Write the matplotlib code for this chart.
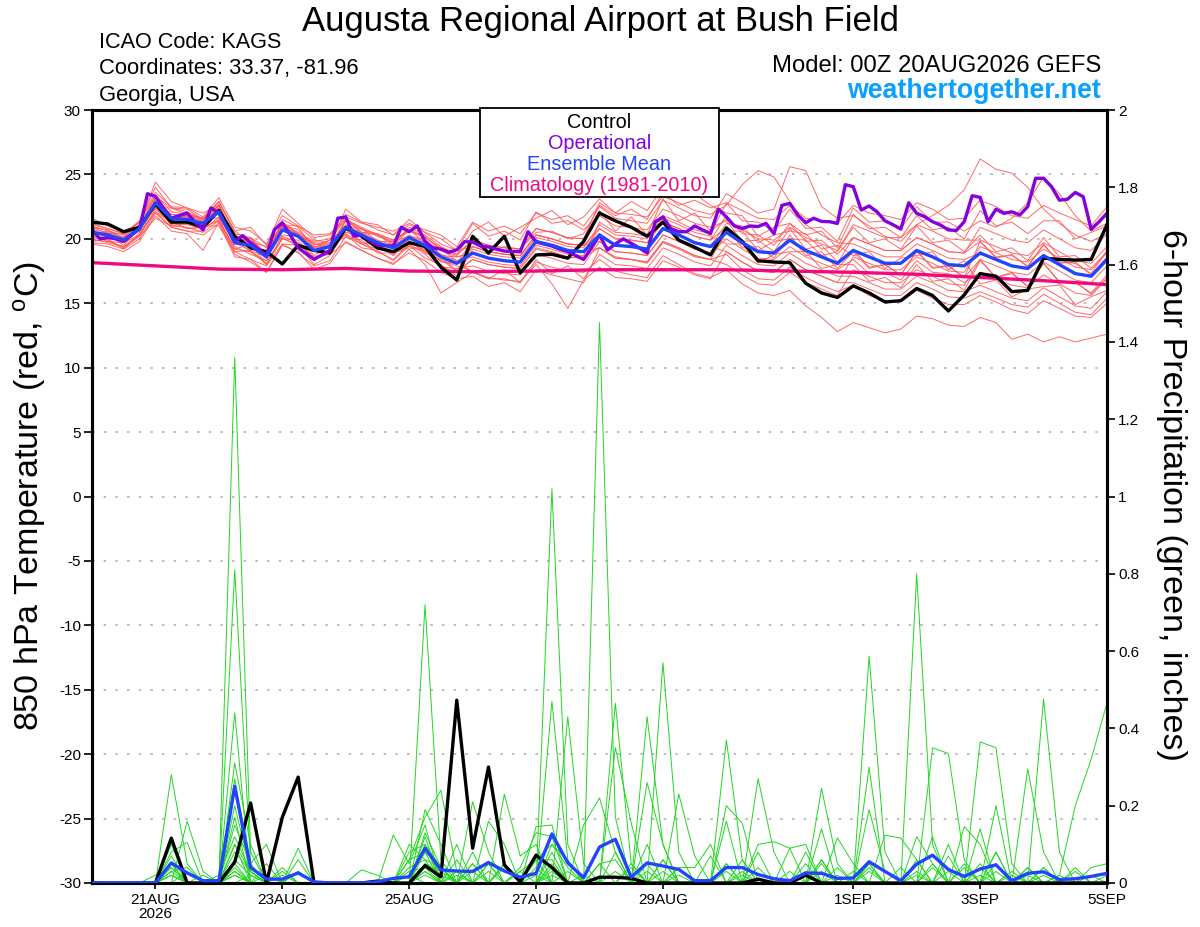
import numpy as np
import matplotlib
matplotlib.use('Agg')
import matplotlib.pyplot as plt
from matplotlib.patches import Rectangle

plt.rcParams['font.family'] = ['Liberation Sans', 'DejaVu Sans']
plt.rcParams['mathtext.default'] = 'regular'

# ---------------- data ----------------
hours6 = np.arange(65) * 6          # forecast hours, 6-hourly (20AUG 00Z .. 5SEP 00Z)
hours3 = np.arange(129) * 3         # operational run, 3-hourly
clim_hours = np.arange(17) * 24     # daily climatology

tick_hours = [24, 72, 120, 168, 216, 288, 336, 384]
tick_labels = ['21AUG\n2026', '23AUG', '25AUG', '27AUG', '29AUG', '1SEP', '3SEP', '5SEP']

control_temp = [21.3,21.15,20.55,20.9,22.7,21.3,21.3,20.9, 22.2,20.2,19.3,19.0,18.05,19.5,19.1,18.9,
                20.85,20.2,19.3,19.0,19.7,19.4,17.8,16.8, 20.2,18.9,20.2,17.35,18.75,18.8,18.5,19.8,
                22.0,21.4,20.9,20.2,21.3,19.9,19.35,18.75, 20.85,19.8,18.3,18.2,18.15,16.55,15.8,15.45,
                16.35,15.8,15.1,15.2,16.15,15.6,14.4,15.65, 17.3,17.1,15.9,16.0,18.5,18.4,18.35,18.4,21.1]

mean_temp = [20.5,20.3,19.9,20.8,22.8,21.6,21.5,21.2, 22.1,19.7,19.5,18.6,20.7,20.2,19.1,19.4,
             20.9,20.3,19.7,19.3,20.1,19.5,18.6,18.1, 18.9,18.5,18.3,18.2,19.8,19.5,19.1,19.0,
             20.3,19.5,19.4,19.2,20.8,20.3,19.7,19.4, 20.5,19.7,19.0,18.9,19.9,19.1,18.6,18.1,
             19.1,18.6,18.1,18.1,19.1,18.6,18.0,17.9, 18.9,18.4,17.9,17.7,18.7,18.0,17.3,17.1,18.4]

oper_temp = [20.7,20.0,20.1,20.0,19.8,20.3,20.8,23.5,23.3,22.4,21.6,21.8,22.0,21.3,20.7,22.4,
             22.0,20.9,19.8,20.25,19.7,19.2,18.7,20.7,21.25,20.3,19.3,18.85,18.4,18.75,19.1,21.6,
             21.7,20.2,20.3,19.9,19.5,19.47,19.44,20.9,20.55,21.0,19.8,19.3,19.2,18.95,19.15,19.78,
             19.75,19.44,19.37,19.2,19.05,19.02,19.0,20.55,19.75,19.6,19.44,19.2,19.0,18.7,18.4,19.3,
             20.3,19.13,19.6,20.0,19.65,19.3,18.9,21.3,21.7,20.8,20.55,20.55,21.0,20.7,20.4,22.3,
             21.7,21.0,20.8,21.0,20.95,21.2,20.4,22.6,22.75,21.85,21.25,21.6,21.35,21.33,21.2,24.2,
             24.05,22.24,22.55,22.1,21.4,21.1,20.76,22.8,21.98,21.72,21.33,21.07,20.69,20.65,21.33,23.35,
             23.22,21.33,22.3,21.98,22.1,21.85,22.5,24.7,24.7,24.05,23.0,23.07,23.6,23.27,20.74,21.33,
             21.98]

clim_temp = [18.15,17.9,17.65,17.6,17.7,17.5,17.45,17.5,17.6,17.6,17.6,17.5,17.4,17.25,17.0,16.75,16.45]

tm01 = [21.6,21.0,20.6,21.2,24.4,22.9,22.4,21.7, 23.2,20.9,20.6,19.6,21.8,21.0,20.3,20.4, 21.7,21.2,20.9,20.6,21.2,20.7,20.3,19.4, 21.3,20.6,21.0,20.4,22.0,21.5,21.8,21.0, 22.6,21.8,22.3,21.5,23.6,22.6,23.0,22.4, 22.8,22.2,21.6,21.5,22.6,21.6,21.4,21.2, 22.6,22.0,21.8,21.5,22.8,22.3,21.5,21.6, 23.0,22.5,21.8,21.6,22.6,22.0,21.5,21.0,22.5]
tm02 = [19.6,19.4,19.0,19.8,21.8,20.6,20.4,19.1, 21.3,18.8,18.2,17.4,19.5,19.0,17.6,18.1, 19.8,19.1,18.5,18.0,19.2,18.0,15.8,16.6, 17.4,16.9,16.9,16.6,18.2,17.8,17.5,17.4, 18.4,17.5,17.2,17.0,18.7,18.0,17.3,17.0, 17.6,16.5,15.8,15.6,16.0,14.8,13.9,12.8, 13.5,13.1,12.7,13.0,14.0,13.8,13.3,13.2, 13.9,13.5,12.2,12.6,12.0,12.4,12.0,12.3,12.6]
tm03 = [21.0,20.6,20.1,21.4,24.0,22.4,22.1,21.5, 22.6,20.0,19.0,18.3,21.5,20.9,19.3,19.9, 21.6,20.5,20.4,19.6,20.9,20.3,19.4,18.8, 19.9,19.0,19.4,19.2,20.5,20.6,20.0,20.4, 22.5,21.6,21.4,21.2,23.0,22.4,21.8,21.6, 23.5,22.8,22.0,22.3,25.6,25.3,22.5,21.6, 21.8,21.0,20.2,19.8,21.1,21.8,22.6,23.8, 26.2,25.4,25.1,24.0,22.3,21.2,20.3,19.8,20.4]
tm04 = [20.1,19.9,19.3,20.2,21.6,21.0,21.2,20.9, 21.5,19.2,19.6,18.0,20.1,19.4,18.4,19.0, 20.4,19.6,19.0,18.4,19.6,18.8,17.8,17.4, 18.4,18.0,17.8,17.7,19.2,18.9,18.5,18.6, 19.3,18.6,18.4,18.1,19.7,19.2,18.6,18.4, 18.8,17.6,16.9,16.8,17.8,17.0,16.4,15.9, 16.4,15.6,15.2,15.1,16.0,15.4,14.9,14.9, 15.6,15.1,14.5,14.2,15.2,14.6,14.0,13.9,15.0]
tm05 = [20.9,20.7,20.0,21.1,23.3,22.4,21.9,21.6, 22.9,20.6,20.9,19.5,22.3,21.2,20.1,20.3, 21.5,20.8,20.2,19.8,20.6,20.1,19.3,18.8, 20.6,21.3,20.2,20.9,21.6,22.2,21.1,21.7, 23.1,22.0,22.9,22.2,24.0,23.2,23.5,22.6, 22.0,21.8,20.2,20.9,21.2,20.3,20.6,19.3, 21.9,20.8,20.9,20.1,21.8,20.7,20.9,20.0, 22.2,21.0,21.3,20.4,21.4,21.4,20.0,20.5,21.0]
tm06 = [20.0,19.7,19.4,20.3,22.1,20.9,20.6,20.3, 21.2,18.6,18.4,17.4,19.6,18.9,17.9,18.3, 20.2,19.6,19.2,18.9,19.4,19.2,18.3,17.9, 17.5,16.9,17.6,16.6,18.4,17.3,17.9,16.9, 18.8,18.0,17.9,17.7,19.3,18.8,18.2,17.9, 19.5,18.7,18.0,17.9,18.9,18.1,17.6,17.1, 17.1,16.6,16.1,16.1,17.1,16.6,16.0,15.9, 16.4,15.9,15.4,15.2,16.2,15.5,14.8,14.6,15.9]
tm07 = [21.2,20.8,20.4,21.4,23.6,22.5,22.4,22.0, 22.6,19.6,20.1,18.5,21.0,20.3,19.6,19.3, 21.4,20.7,20.4,19.9,20.7,20.2,19.1,18.6, 18.9,18.5,18.3,18.2,19.8,19.5,19.1,19.0, 20.8,20.0,19.9,19.7,21.3,20.8,20.2,19.9, 21.8,20.4,20.3,19.5,21.2,19.8,19.9,18.8, 20.1,19.6,19.1,19.1,20.1,19.6,19.0,18.9, 19.8,18.6,18.7,17.9,19.5,18.2,18.1,17.3,19.1]
tm08 = [19.7,19.6,19.2,20.0,22.0,20.9,20.6,20.6, 22.6,20.2,19.7,18.7,21.1,20.7,19.5,19.9, 20.9,19.7,19.6,18.7,20.1,19.0,18.6,17.5, 19.4,19.0,18.8,18.7,20.3,20.0,19.6,19.5, 19.8,19.0,18.9,18.7,20.3,19.8,19.2,18.9, 20.0,19.2,18.5,18.4,19.4,18.6,18.1,17.6, 18.4,17.3,17.4,16.8,18.3,17.4,17.3,16.6, 17.4,16.9,16.4,16.2,17.2,16.5,15.8,15.6,16.9]
tm09 = [20.6,20.2,19.7,20.7,23.1,21.9,21.8,21.5, 22.9,20.4,20.1,19.3,21.1,20.5,19.8,20.0, 21.9,21.3,20.7,20.3,21.1,20.5,19.6,19.1, 21.2,20.2,20.6,19.9,22.1,21.2,21.4,20.7, 21.8,21.0,20.9,20.7,22.3,21.8,21.2,20.9, 21.4,19.8,19.9,19.0,20.8,19.2,19.5,18.2, 19.2,17.8,18.0,17.2,19.1,17.7,17.9,17.0, 18.4,17.0,17.4,16.3,18.1,16.7,16.6,15.8,17.2]
tm10 = [20.9,20.4,20.0,20.9,22.6,21.0,20.9,20.5, 21.4,19.0,19.1,18.0,20.0,19.6,18.5,18.8, 19.7,19.1,18.5,18.1,18.9,18.3,17.4,16.9, 17.1,16.3,16.6,15.9,17.6,17.2,16.9,16.6, 19.3,18.5,18.4,18.2,19.8,19.3,18.7,18.4, 20.5,19.7,19.0,18.9,19.9,19.1,18.6,18.1, 20.1,19.6,19.1,19.1,20.1,19.6,19.0,18.9, 20.9,20.4,19.9,19.7,20.7,20.0,19.3,19.1,20.4]
tm11 = [20.3,20.5,20.1,20.6,22.9,21.9,21.7,21.4, 22.3,19.9,19.7,18.8,20.9,20.4,19.3,19.6, 21.1,20.5,19.9,19.5,20.3,19.7,18.8,18.3, 18.6,18.2,18.0,17.9,19.5,19.2,18.8,18.7, 21.3,20.5,20.4,20.2,21.8,21.3,20.7,20.4, 22.8,21.4,21.3,20.6,22.3,20.8,20.9,19.8, 22.4,21.3,21.4,20.8,22.5,21.3,21.3,20.6, 21.4,20.9,21.6,22.8,24.8,23.5,21.8,20.6,21.2]
tm12 = [21.1,20.8,20.4,21.3,23.4,22.1,21.9,21.6, 21.6,19.2,19.0,18.1,20.2,19.7,18.6,18.9, 20.9,20.3,19.7,19.3,20.1,19.5,18.6,18.1, 19.4,19.0,18.8,18.7,20.3,20.0,19.6,19.5, 20.3,19.5,19.4,19.2,20.8,20.3,19.7,19.4, 19.0,18.2,17.5,17.4,18.4,17.6,17.1,16.6, 16.6,16.1,15.6,15.6,16.6,16.1,15.5,15.4, 15.9,15.4,14.9,14.7,15.7,15.0,14.3,14.1,15.4]
tm13 = [19.9,19.8,19.4,20.3,22.3,21.2,21.1,20.8, 22.1,19.7,19.5,18.6,20.7,20.2,19.1,19.4, 21.5,20.9,20.3,19.9,20.7,20.1,19.2,18.7, 19.9,19.5,19.3,19.2,20.8,20.5,20.1,20.0, 22.8,22.0,21.9,21.7,23.3,22.8,22.2,21.9, 22.6,24.2,25.3,24.8,22.9,21.1,20.3,19.7, 19.6,19.1,18.6,18.6,19.6,19.1,18.5,18.4, 18.9,18.4,17.9,17.7,18.7,18.0,17.3,17.1,18.4]
tm14 = [20.4,20.6,20.3,20.8,22.4,22.4,22.3,21.5, 22.9,20.6,19.8,19.4,21.1,21.0,19.9,19.7, 20.1,19.9,18.9,18.9,19.3,19.1,17.8,17.7, 17.9,17.5,17.3,17.2,18.8,18.5,18.1,18.0, 19.8,19.0,18.9,18.7,20.3,19.8,19.2,18.9, 20.6,20.6,19.1,19.8,20.0,19.9,18.7,19.0, 20.9,19.7,20.0,19.2,21.0,19.7,19.9,19.0, 20.3,19.0,19.3,18.3,20.1,18.6,18.7,17.7,19.0]
tm15 = [20.3,19.8,19.7,20.3,22.7,21.1,21.4,20.7, 21.7,19.7,19.1,18.6,20.3,20.2,18.7,19.4, 21.0,20.8,19.8,19.8,20.2,20.0,18.7,18.6, 18.9,18.5,18.3,18.2,19.8,19.5,19.1,19.0, 19.3,18.5,18.4,18.2,19.8,19.3,18.7,18.4, 18.0,17.2,16.5,16.4,17.4,16.6,16.1,15.6, 17.6,17.1,16.6,16.6,17.6,17.1,16.5,16.4, 18.4,17.9,17.4,17.2,18.2,17.5,16.8,16.6,17.9]
tm16 = [20.9,20.4,20.4,20.9,23.3,21.7,22.0,21.3, 22.6,19.8,20.0,18.7,21.2,20.3,19.6,19.5, 22.3,21.3,21.1,20.3,21.5,20.5,20.0,19.1, 19.4,19.0,18.8,18.7,20.3,20.0,19.6,19.5, 20.8,20.0,19.9,19.7,21.3,20.8,20.2,19.9, 20.9,19.3,19.4,18.5,20.3,18.7,19.0,17.7, 19.0,17.7,18.0,17.2,19.0,17.8,17.9,17.0, 19.8,18.5,18.8,17.8,19.6,18.1,18.2,17.2,18.6]
tm17 = [20.1,20.3,19.5,20.8,22.4,21.3,20.8,20.9, 21.4,19.4,18.8,18.3,20.0,19.9,18.4,19.1, 20.5,20.3,19.3,19.3,19.7,19.5,18.2,18.1, 19.9,19.5,19.3,19.2,20.8,20.5,20.1,20.0, 22.2,20.6,21.7,20.3,23.1,21.4,22.0,20.6, 21.5,20.7,20.0,19.9,20.9,20.1,19.6,19.1, 21.1,20.6,20.1,20.1,21.1,20.6,20.0,19.9, 19.9,19.4,18.9,18.7,19.7,19.0,18.3,18.1,19.4]
tm18 = [20.8,20.2,20.2,20.7,23.1,21.5,21.8,21.1, 22.4,19.6,19.8,18.5,21.0,20.1,19.4,19.3, 20.7,19.7,19.5,18.7,19.9,18.9,18.4,17.5, 18.4,18.0,17.8,17.7,19.3,19.0,18.6,18.5, 20.3,19.5,19.4,19.2,20.8,20.3,19.7,19.4, 21.2,21.0,19.7,20.3,20.6,20.4,19.2,19.5, 18.7,19.0,17.7,18.5,18.7,19.0,17.6,18.3, 16.5,16.8,15.5,16.1,16.3,16.4,14.9,15.5,16.0]
tm19 = [20.7,20.1,20.1,20.6,23.0,21.4,21.7,21.0, 21.0,19.0,18.4,17.9,19.6,19.5,18.0,18.7, 21.5,20.5,20.3,19.5,20.7,19.7,19.2,18.3, 17.4,17.0,16.8,16.7,18.0,16.5,14.6,16.8, 17.8,17.0,16.9,16.7,18.3,17.8,17.2,16.9, 19.0,18.2,17.5,17.4,18.4,17.6,17.1,16.6, 18.6,18.1,17.6,17.6,18.6,18.1,17.5,17.4, 19.4,18.9,18.4,18.2,19.2,18.5,17.8,17.6,18.9]
tm20 = [19.8,20.0,19.2,20.5,22.1,21.3,20.8,20.9, 22.7,19.9,20.1,18.8,21.3,20.4,19.7,19.6, 20.3,19.3,19.1,18.3,19.5,18.5,18.0,17.1, 19.2,18.8,18.6,18.5,20.1,19.8,19.4,19.3, 21.1,20.3,20.2,20.0,21.6,21.1,20.5,20.2, 19.6,19.6,18.1,18.8,19.0,19.0,17.7,18.0, 18.0,16.7,17.0,16.2,18.0,16.7,16.9,16.0, 18.3,17.0,17.3,16.3,18.1,16.6,16.7,15.7,17.0]
member_temps = [tm01, tm02, tm03, tm04, tm05, tm06, tm07, tm08, tm09, tm10,
                tm11, tm12, tm13, tm14, tm15, tm16, tm17, tm18, tm19, tm20]

control_precip = [0,0,0,0,0,0.116,0,0, 0,0.054,0.207,0,0.17,0.274,0,0,
                  0,0,0.005,0,0,0.045,0.016,0.473, 0.09,0.30,0.047,0.003,0.072,0.04,0,0,
                  0.015,0.015,0.012,0,0,0,0,0, 0,0,0.01,0,0,0.02,0,0,
                  0,0,0,0,0,0,0,0, 0,0,0,0,0,0,0,0,0]
mean_precip = [0,0,0,0,0,0.052,0.026,0.006, 0.006,0.25,0.04,0.01,0.01,0.026,0.003,0,
               0,0,0.003,0.012,0.016,0.09,0.034,0.031, 0.03,0.053,0.031,0.015,0.025,0.127,0.052,0.014,
               0.093,0.113,0.015,0.052,0.044,0.035,0.006,0.006, 0.04,0.04,0.022,0.011,0.006,0.026,0.025,0.012,
               0.013,0.055,0.03,0.006,0.049,0.072,0.035,0.017, 0.036,0.047,0.006,0.025,0.029,0.009,0.011,0.017,0.025]

# ensemble member 6-hour precipitation: {step index: inches}; unlisted steps are 0
pm01 = {5:0.28, 6:0.05, 9:0.10, 10:0.03, 21:0.13, 22:0.04, 29:0.10, 30:0.04, 33:0.08, 35:0.05, 40:0.05, 46:0.06, 49:0.05, 52:0.12, 53:0.05, 57:0.08, 60:0.04}
pm02 = {6:0.16, 7:0.03, 9:1.36, 10:0.08, 13:0.03, 21:0.10, 24:0.05, 28:0.06, 32:1.45, 33:0.17, 36:0.06, 42:0.08, 49:0.19, 50:0.03, 56:0.14, 61:0.02}
pm03 = {5:0.10, 9:0.81, 10:0.05, 11:0.10, 21:0.72, 22:0.06, 26:0.05, 29:0.47, 30:0.06, 36:0.57, 37:0.08, 46:0.14, 52:0.80, 53:0.10, 57:0.20}
pm04 = {5:0.08, 6:0.105, 9:0.44, 13:0.09, 20:0.06, 21:0.17, 22:0.24, 23:0.03, 29:1.02, 30:0.10, 35:0.43, 36:0.10, 40:0.16, 49:0.587, 50:0.08, 54:0.10, 60:0.476, 61:0.08}
pm05 = {5:0.07, 9:0.31, 10:0.10, 12:0.03, 19:0.124, 20:0.05, 21:0.15, 24:0.21, 25:0.08, 30:0.43, 31:0.05, 33:0.465, 34:0.05, 40:0.37, 41:0.06, 49:0.30, 53:0.35, 54:0.335, 55:0.06, 59:0.04}
pm06 = {5:0.05, 9:0.27, 11:0.05, 13:0.06, 21:0.19, 22:0.10, 25:0.16, 26:0.10, 28:0.146, 29:0.15, 33:0.35, 34:0.155, 37:0.23, 38:0.07, 42:0.27, 43:0.08, 46:0.245, 47:0.05, 56:0.365, 57:0.35, 58:0.05}
pm07 = {4:0.02, 5:0.04, 9:0.20, 10:0.03, 12:0.04, 21:0.12, 23:0.10, 26:0.23, 27:0.07, 28:0.10, 31:0.15, 32:0.22, 33:0.08, 35:0.26, 36:0.10, 40:0.20, 41:0.155, 44:0.09, 45:0.10, 55:0.146, 56:0.10, 59:0.295, 60:0.08}
pm08 = {5:0.03, 6:0.04, 9:0.17, 17:0.034, 18:0.02, 21:0.08, 22:0.04, 24:0.08, 27:0.04, 28:0.13, 29:0.12, 32:0.05, 35:0.10, 39:0.07, 42:0.10, 43:0.107, 44:0.09, 47:0.117, 48:0.05, 50:0.124, 51:0.116, 52:0.06, 61:0.02, 62:0.20, 63:0.32, 64:0.466}
pm09 = {5:0.02, 7:0.02, 9:0.15, 10:0.05, 20:0.10, 21:0.06, 23:0.06, 25:0.05, 29:0.08, 34:0.05, 37:0.04, 38:0.04, 39:0.10, 45:0.08, 49:0.05, 53:0.12, 55:0.05, 57:0.08, 63:0.04, 64:0.05}
pm10 = {5:0.05, 8:0.02, 9:0.12, 10:0.03, 13:0.03, 20:0.08, 21:0.10, 22:0.04, 24:0.05, 27:0.03, 28:0.06, 29:0.10, 30:0.06, 36:0.06, 41:0.06, 45:0.05, 48:0.03, 51:0.04, 54:0.07, 58:0.03, 62:0.04}
pm11 = {9:0.08, 10:0.03, 20:0.04, 21:0.06, 22:0.04, 26:0.05, 28:0.06, 29:0.06, 32:0.05, 33:0.06, 37:0.04, 40:0.05, 46:0.06, 52:0.06, 56:0.05, 59:0.04}
pm12 = {5:0.04, 9:0.05, 11:0.02, 20:0.06, 21:0.08, 23:0.03, 25:0.05, 27:0.03, 29:0.05, 34:0.04, 41:0.03, 47:0.04, 53:0.05, 57:0.05, 60:0.04}
pm13 = {5:0.03, 9:0.10, 21:0.05, 22:0.03, 29:0.04, 44:0.03, 46:0.05, 49:0.03, 56:0.04}
pm14 = {6:0.03, 9:0.06, 10:0.02, 20:0.03, 21:0.04, 24:0.03, 28:0.04, 35:0.03, 42:0.04, 52:0.03, 55:0.04, 62:0.03}
pm15 = {5:0.02, 9:0.04, 12:0.02, 21:0.03, 26:0.04, 30:0.03, 36:0.03, 45:0.03, 53:0.04, 58:0.02}
pm16 = {9:0.03, 21:0.05, 22:0.02, 29:0.03, 33:0.03, 40:0.03, 49:0.04, 57:0.03, 63:0.02}
pm17 = {5:0.02, 9:0.02, 20:0.02, 25:0.03, 28:0.02, 37:0.02, 46:0.03, 54:0.03, 60:0.02}
pm18 = {0:0.005, 9:0.03, 21:0.02, 29:0.02, 41:0.02, 56:0.02}
pm19 = {9:0.02, 21:0.03, 31:0.02, 52:0.02, 64:0.02}
pm20 = {10:0.02, 23:0.02, 47:0.02, 59:0.02}
member_precips = [pm01, pm02, pm03, pm04, pm05, pm06, pm07, pm08, pm09, pm10,
                  pm11, pm12, pm13, pm14, pm15, pm16, pm17, pm18, pm19, pm20]

# ---------------- styles ----------------
RED = '#ff5858'
GREEN = '#22d622'
PURPLE = '#8400dc'
BLUE = '#2244ff'
PINK = '#f00a80'
SKY = '#0aa0ff'

W, H = 1200, 927
fig = plt.figure(figsize=(W / 100, H / 100), dpi=100)
ax = fig.add_axes([92 / W, 1 - 883 / H, (1107 - 92) / W, (883 - 110) / H])
ax2 = ax.twinx()

ax.set_xlim(0, 384)
ax.set_ylim(-30, 30)
ax2.set_ylim(0, 2)

# grid (left axis only)
ax.set_yticks(np.arange(-30, 31, 5))
ax.grid(axis='y', color='#b0b0b0', linestyle=(0, (1.5, 5.5)), linewidth=1.2)
ax.grid(axis='x', visible=False)

# temperature members
for m in member_temps:
    ax.plot(hours6, m, color=RED, lw=0.7, alpha=0.9, zorder=2)

# precipitation members
for d in member_precips:
    vals = [d.get(i, 0.0) for i in range(len(hours6))]
    ax2.plot(hours6, vals, color=GREEN, lw=0.7, zorder=2)

ax.plot(clim_hours, clim_temp, color=PINK, lw=2.4, zorder=3)
ax.plot(hours6, control_temp, color='black', lw=2.4, zorder=4)
ax.plot(hours3, oper_temp, color=PURPLE, lw=2.4, zorder=5)
ax.plot(hours6, mean_temp, color=BLUE, lw=2.4, zorder=6)

ax2.plot(hours6, control_precip, color='black', lw=2.4, zorder=4)
ax2.plot(hours6, mean_precip, color=BLUE, lw=2.4, zorder=5)

# axes styling
for a in (ax, ax2):
    for s in a.spines.values():
        s.set_linewidth(2.2)
        s.set_color('black')

ax.set_xticks(tick_hours)
ax.set_xticklabels(tick_labels, fontsize=11, linespacing=1.05)
ax.tick_params(axis='x', direction='out', length=4, width=1.2, pad=3)
ax.tick_params(axis='y', direction='out', length=6, width=1.2, labelsize=11, pad=2)
ax.set_yticklabels([str(v) for v in range(-30, 31, 5)])

rt = np.round(np.arange(0, 2.01, 0.2), 1)
ax2.set_yticks(rt)
ax2.set_yticklabels(['%g' % v for v in rt])
ax2.tick_params(axis='y', direction='out', length=6, width=1.2, labelsize=11, pad=2)

# axis titles
fig.text(30 / W, 1 - 496 / H, '850 hPa Temperature (red, $^{o}$C)', rotation=90,
         ha='center', va='center', fontsize=24.5)
fig.text(1172 / W, 1 - 495 / H, '6-hour Precipitation (green, inches)', rotation=270,
         ha='center', va='center', fontsize=24.5)

# header texts
fig.text(0.5, 1 - 21.5 / H, 'Augusta Regional Airport at Bush Field', ha='center', va='center', fontsize=25)
fig.text(99 / W, 1 - 42.5 / H, 'ICAO Code: KAGS', ha='left', va='center', fontsize=15.6)
fig.text(99 / W, 1 - 68.5 / H, 'Coordinates: 33.37, -81.96', ha='left', va='center', fontsize=15.8)
fig.text(99 / W, 1 - 95 / H, 'Georgia, USA', ha='left', va='center', fontsize=15.8)
fig.text(1101 / W, 1 - 66 / H, 'Model: 00Z 20AUG2026 GEFS', ha='right', va='center', fontsize=17.2)
fig.text(1101 / W, 1 - 91.5 / H, 'weathertogether.net', ha='right', va='center', fontsize=19.3,
         fontweight='bold', color=SKY)

# legend box
box = Rectangle((480 / W, 1 - 197 / H), (719 - 480) / W, (197 - 108) / H, transform=fig.transFigure,
                facecolor='white', edgecolor='black', linewidth=1.3, zorder=10)
fig.add_artist(box)
legend_items = [('Control', 'black'), ('Operational', PURPLE), ('Ensemble Mean', BLUE),
                ('Climatology (1981-2010)', PINK)]
for k, (txt, col) in enumerate(legend_items):
    fig.text(599.5 / W, 1 - (122 + k * 21.3) / H, txt, ha='center', va='center', fontsize=14.3,
             color=col, zorder=11)

fig.savefig('out.png', dpi=100)
